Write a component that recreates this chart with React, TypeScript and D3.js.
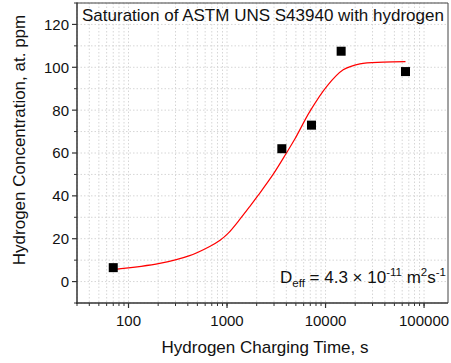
import React from "react";
import * as d3 from "d3";

const pointTimes = [70, 3600, 7200, 14400, 64800];
const pointValues = [6.5, 62, 73, 107.5, 98];

const fitTimes = [70, 207, 417, 667, 850, 1024, 1346, 1700, 2066, 2935, 4020, 4878, 6935, 10250, 15110, 22330, 38550, 64800];
const fitValues = [5.6, 8.5, 12.1, 16.4, 19.3, 22.5, 29.0, 35.0, 40.2, 50.0, 60.1, 66.5, 79.4, 91.0, 98.8, 101.6, 102.4, 102.6];

const yTicks = [0, 20, 40, 60, 80, 100, 120];
const xTicks = [100, 1000, 10000, 100000];
const xTickLabels = ["100", "1000", "10000", "100000"];

const W = 451, H = 363;
const L = 77, R = 448, T = 3, B = 303;

export default function App() {
  const x = d3.scaleLog().domain([30, 175000]).range([L, R]);
  const y = d3.scaleLinear().domain([-10, 130]).range([B, T]);

  const xMinor: number[] = [];
  for (let e = 1; e <= 5; e++) {
    for (let m = 1; m <= 9; m++) {
      const v = m * Math.pow(10, e);
      if (v >= 30 && v <= 175000) xMinor.push(v);
    }
  }
  const yGrid = d3.range(-10, 131, 10);
  const yMinor = d3.range(-10, 131, 10).filter((v) => v % 20 !== 0);

  const line = d3
    .line<number>()
    .x((_, i) => x(fitTimes[i]))
    .y((d) => y(d))
    .curve(d3.curveCatmullRom.alpha(0.5));

  const font = "'Liberation Sans', Arial, sans-serif";
  const ms = 9;

  return (
    <svg width={W} height={H} style={{ position: "absolute", left: 0, top: 0 }} fontFamily={font}>
      <rect x={0} y={0} width={W} height={H} fill="#fff" />
      {/* grid */}
      <g stroke="#d6d6d6" strokeWidth={1} strokeDasharray="1.5,2">
        {xMinor.map((v) => (
          <line key={"gx" + v} x1={x(v)} x2={x(v)} y1={T} y2={B} />
        ))}
        {yGrid.map((v) => (
          <line key={"gy" + v} x1={L} x2={R} y1={y(v)} y2={y(v)} />
        ))}
      </g>
      {/* frame */}
      <line x1={L} x2={R} y1={T} y2={T} stroke="#444" strokeWidth={1} />
      <line x1={R} x2={R} y1={T} y2={B} stroke="#444" strokeWidth={1} />
      <line x1={L} x2={L} y1={T - 0.5} y2={B + 1} stroke="#333" strokeWidth={1.5} />
      <line x1={L - 1} x2={R} y1={B} y2={B} stroke="#333" strokeWidth={1.5} />
      {/* y ticks */}
      {yTicks.map((v) => (
        <g key={"yt" + v}>
          <line x1={L - 5} x2={L} y1={y(v)} y2={y(v)} stroke="#333" strokeWidth={1.2} />
          <text x={L - 8} y={y(v)} dy="0.36em" textAnchor="end" fontSize={15} fill="#111">
            {v}
          </text>
        </g>
      ))}
      {yMinor.map((v) => (
        <line key={"ym" + v} x1={L - 3} x2={L} y1={y(v)} y2={y(v)} stroke="#333" strokeWidth={1} />
      ))}
      {/* x ticks */}
      {xMinor.map((v) => (
        <line key={"xm" + v} x1={x(v)} x2={x(v)} y1={B} y2={B + 3} stroke="#333" strokeWidth={1} />
      ))}
      {xTicks.map((v, i) => (
        <g key={"xt" + v}>
          <line x1={x(v)} x2={x(v)} y1={B} y2={B + 5} stroke="#333" strokeWidth={1.2} />
          <text x={x(v)} y={B + 23} textAnchor="middle" fontSize={15} fill="#111">
            {xTickLabels[i]}
          </text>
        </g>
      ))}
      {/* fit line */}
      <path d={line(fitValues) || ""} fill="none" stroke="#ff0000" strokeWidth={1.2} />
      {/* points */}
      {pointTimes.map((t, i) => (
        <rect key={"p" + i} x={x(t) - ms / 2} y={y(pointValues[i]) - ms / 2} width={ms} height={ms} fill="#000" />
      ))}
      {/* title */}
      <text x={82} y={21} fontSize={17} fill="#111">
        Saturation of ASTM UNS S43940 with hydrogen
      </text>
      {/* annotation */}
      <text x={280} y={283} fontSize={17} fill="#111">
        <tspan>D</tspan>
        <tspan fontSize={11.5} dy={4}>eff</tspan>
        <tspan dy={-4}> = 4.3 × 10</tspan>
        <tspan fontSize={11.5} dy={-7}>-11</tspan>
        <tspan dy={7}> m</tspan>
        <tspan fontSize={11.5} dy={-7}>2</tspan>
        <tspan dy={7}>s</tspan>
        <tspan fontSize={11.5} dy={-7}>-1</tspan>
      </text>
      {/* axis titles */}
      <text x={265} y={353} textAnchor="middle" fontSize={17} fill="#111">
        Hydrogen Charging Time, s
      </text>
      <text
        transform={`translate(25, 140) rotate(-90)`}
        textAnchor="middle"
        fontSize={17}
        fill="#111"
      >
        Hydrogen Concentration, at. ppm
      </text>
    </svg>
  );
}
